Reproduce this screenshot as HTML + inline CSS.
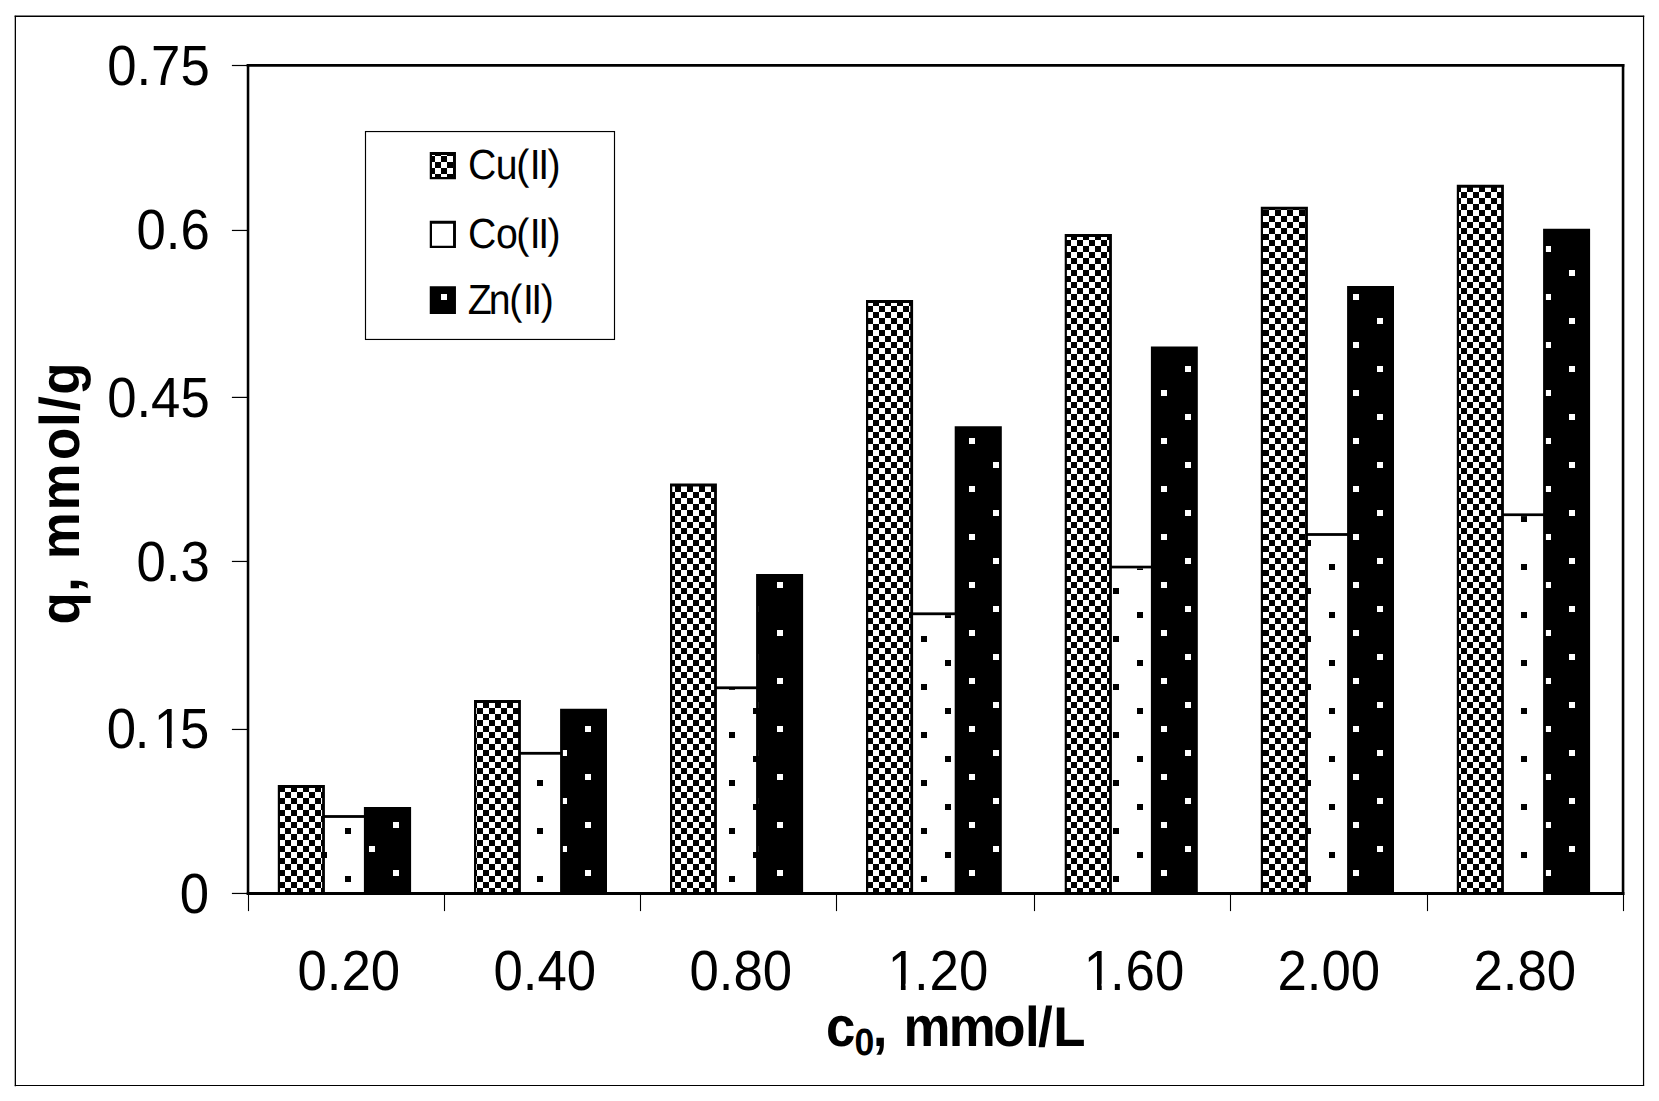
<!DOCTYPE html>
<html lang="en"><head><meta charset="utf-8"><title>Adsorption capacity chart</title>
<style>html,body{margin:0;padding:0;background:#fff}body{width:1659px;height:1101px;overflow:hidden}svg{display:block;position:absolute;left:0;top:0}text{font-family:"Liberation Sans",sans-serif;fill:#000;text-rendering:geometricPrecision}.b{font-weight:bold}</style></head><body>
<svg width="1659" height="1101" viewBox="0 0 1659 1101" shape-rendering="auto">
<defs>
<pattern id="chk" patternUnits="userSpaceOnUse" x="3" y="0" width="12" height="12"><rect width="12" height="12" fill="#000"/><rect x="0" y="0" width="6" height="6" fill="#fff"/><rect x="6" y="6" width="6" height="6" fill="#fff"/></pattern>
<pattern id="dotk" patternUnits="userSpaceOnUse" x="0" y="0" width="48" height="48"><rect width="48" height="48" fill="#fff"/><rect x="9" y="12" width="6" height="6" fill="#000"/><rect x="33" y="36" width="6" height="6" fill="#000"/></pattern>
<pattern id="dotw" patternUnits="userSpaceOnUse" x="0" y="0" width="48" height="48"><rect width="48" height="48" fill="#000"/><rect x="9" y="6" width="6" height="6" fill="#fff"/><rect x="33" y="30" width="6" height="6" fill="#fff"/></pattern>
</defs>
<rect width="1659" height="1101" fill="#fff"/>
<g stroke="#000" stroke-linecap="square" fill="none">
<line x1="15.35" y1="16.3" x2="15.35" y2="1085.5" stroke-width="1.3"/>
<line x1="15.35" y1="16.3" x2="1643.55" y2="16.3" stroke-width="1.4"/>
<line x1="1643.55" y1="16.3" x2="1643.55" y2="1085.5" stroke-width="1.2"/>
<line x1="15.35" y1="1085.55" x2="1643.55" y2="1085.55" stroke-width="1.1"/>
</g>
<g>
<rect x="323.9" y="817.9" width="41.0" height="75.6" fill="url(#dotk)"/>
<rect x="323.9" y="815.1" width="41.0" height="2.8" fill="#000"/>
<rect x="519.9" y="754.7" width="41.2" height="138.8" fill="url(#dotk)"/>
<rect x="519.9" y="751.9" width="41.2" height="2.8" fill="#000"/>
<rect x="715.9" y="689.2" width="41.2" height="204.3" fill="url(#dotk)"/>
<rect x="715.9" y="686.4" width="41.2" height="2.8" fill="#000"/>
<rect x="912.1" y="615.2" width="43.6" height="278.3" fill="url(#dotk)"/>
<rect x="912.1" y="612.4" width="43.6" height="2.8" fill="#000"/>
<rect x="1110.9" y="568.4" width="41.0" height="325.1" fill="url(#dotk)"/>
<rect x="1110.9" y="565.7" width="41.0" height="2.7" fill="#000"/>
<rect x="1306.9" y="535.9" width="41.2" height="357.6" fill="url(#dotk)"/>
<rect x="1306.9" y="533.1" width="41.2" height="2.8" fill="#000"/>
<rect x="1502.9" y="516.1" width="41.2" height="377.4" fill="url(#dotk)"/>
<rect x="1502.9" y="513.4" width="41.2" height="2.7" fill="#000"/>
</g>
<rect x="278.80" y="786.00" width="45.10" height="107.50" fill="url(#chk)"/>
<path fill="#000" d="M277.80 893.50V785.00H324.90V893.50H322.10V788.00H280.00V893.50Z"/>
<rect x="364.90" y="808.00" width="45.20" height="85.50" fill="url(#dotw)"/>
<path fill="#000" d="M363.90 893.50V807.00H411.10V893.50H408.40V810.00H366.70V893.50Z"/>
<rect x="475.00" y="701.00" width="44.90" height="192.50" fill="url(#chk)"/>
<path fill="#000" d="M474.00 893.50V700.00H520.90V893.50H518.10V703.00H476.20V893.50Z"/>
<rect x="561.10" y="709.80" width="44.90" height="183.70" fill="url(#dotw)"/>
<path fill="#000" d="M560.10 893.50V708.80H607.00V893.50H604.30V711.80H562.90V893.50Z"/>
<rect x="671.00" y="484.50" width="44.90" height="409.00" fill="url(#chk)"/>
<path fill="#000" d="M670.00 893.50V483.50H716.90V893.50H714.10V486.50H672.20V893.50Z"/>
<rect x="757.10" y="575.00" width="45.00" height="318.50" fill="url(#dotw)"/>
<path fill="#000" d="M756.10 893.50V574.00H803.10V893.50H800.40V577.00H758.90V893.50Z"/>
<rect x="867.00" y="301.00" width="45.10" height="592.50" fill="url(#chk)"/>
<path fill="#000" d="M866.00 893.50V300.00H913.10V893.50H910.30V303.00H868.20V893.50Z"/>
<rect x="955.70" y="427.20" width="45.10" height="466.30" fill="url(#dotw)"/>
<path fill="#000" d="M954.70 893.50V426.20H1001.80V893.50H999.10V429.20H957.50V893.50Z"/>
<rect x="1065.70" y="235.00" width="45.20" height="658.50" fill="url(#chk)"/>
<path fill="#000" d="M1064.70 893.50V234.00H1111.90V893.50H1109.10V237.00H1066.90V893.50Z"/>
<rect x="1151.90" y="347.50" width="44.90" height="546.00" fill="url(#dotw)"/>
<path fill="#000" d="M1150.90 893.50V346.50H1197.80V893.50H1195.10V349.50H1153.70V893.50Z"/>
<rect x="1261.80" y="207.80" width="45.10" height="685.70" fill="url(#chk)"/>
<path fill="#000" d="M1260.80 893.50V206.80H1307.90V893.50H1305.10V209.80H1263.00V893.50Z"/>
<rect x="1348.10" y="287.10" width="44.90" height="606.40" fill="url(#dotw)"/>
<path fill="#000" d="M1347.10 893.50V286.10H1394.00V893.50H1391.30V289.10H1349.90V893.50Z"/>
<rect x="1457.80" y="185.80" width="45.10" height="707.70" fill="url(#chk)"/>
<path fill="#000" d="M1456.80 893.50V184.80H1503.90V893.50H1501.10V187.80H1459.00V893.50Z"/>
<rect x="1544.10" y="229.70" width="45.00" height="663.80" fill="url(#dotw)"/>
<path fill="#000" d="M1543.10 893.50V228.70H1590.10V893.50H1587.40V231.70H1545.90V893.50Z"/>
<g stroke="#000" stroke-linecap="butt" fill="none">
<line x1="248.03" y1="64.1" x2="248.03" y2="895" stroke-width="2.55"/>
<line x1="1623.05" y1="64.1" x2="1623.05" y2="895" stroke-width="2.6"/>
<line x1="246.75" y1="65.45" x2="1624.35" y2="65.45" stroke-width="2.7"/>
<line x1="246.75" y1="893.5" x2="1624.35" y2="893.5" stroke-width="3"/>
</g>
<line x1="231.9" y1="65.50" x2="247.5" y2="65.50" stroke="#000" stroke-width="1.2"/>
<line x1="231.9" y1="230.45" x2="247.5" y2="230.45" stroke="#000" stroke-width="1.2"/>
<line x1="231.9" y1="397.40" x2="247.5" y2="397.40" stroke="#000" stroke-width="1.2"/>
<line x1="231.9" y1="561.45" x2="247.5" y2="561.45" stroke="#000" stroke-width="1.2"/>
<line x1="231.9" y1="729.45" x2="247.5" y2="729.45" stroke="#000" stroke-width="1.2"/>
<line x1="231.9" y1="893.45" x2="247.5" y2="893.45" stroke="#000" stroke-width="1.2"/>
<line x1="248.5" y1="894" x2="248.5" y2="911.1" stroke="#000" stroke-width="1.1"/>
<line x1="444.5" y1="894" x2="444.5" y2="911.1" stroke="#000" stroke-width="1.1"/>
<line x1="640.5" y1="894" x2="640.5" y2="911.1" stroke="#000" stroke-width="1.1"/>
<line x1="836.5" y1="894" x2="836.5" y2="911.1" stroke="#000" stroke-width="1.1"/>
<line x1="1034.5" y1="894" x2="1034.5" y2="911.1" stroke="#000" stroke-width="1.1"/>
<line x1="1230.5" y1="894" x2="1230.5" y2="911.1" stroke="#000" stroke-width="1.1"/>
<line x1="1427.5" y1="894" x2="1427.5" y2="911.1" stroke="#000" stroke-width="1.1"/>
<line x1="1623.5" y1="894" x2="1623.5" y2="911.1" stroke="#000" stroke-width="1.1"/>
<text transform="translate(209.80 84.90) scale(0.9320 1)" font-size="56.60" text-anchor="end">0.75</text>
<text transform="translate(209.80 248.90) scale(0.9320 1)" font-size="56.60" text-anchor="end">0.6</text>
<text transform="translate(209.80 417.10) scale(0.9320 1)" font-size="56.60" text-anchor="end">0.45</text>
<text transform="translate(209.80 580.90) scale(0.9320 1)" font-size="56.60" text-anchor="end">0.3</text>
<clipPath id="k1"><path clip-rule="evenodd" d="M104.63 -60.00 H253.17 V20.00 H104.63 Z M167.68 -6.36 H179.15 V6.00 H167.68 Z M184.15 -6.36 H194.21 V6.00 H184.15 Z"/></clipPath>
<text transform="translate(0 747.90) scale(0.9320 1)" font-size="56.60" x="114.63 144.66 164.92 193.17" clip-path="url(#k1)">0.15</text>
<text transform="translate(209.20 912.70) scale(0.9320 1)" font-size="56.60" text-anchor="end">0</text>
<text transform="translate(400.10 990.10) scale(0.9320 1)" font-size="56.60" text-anchor="end">0.20</text>
<text transform="translate(596.10 990.10) scale(0.9320 1)" font-size="56.60" text-anchor="end">0.40</text>
<text transform="translate(792.10 990.10) scale(0.9320 1)" font-size="56.60" text-anchor="end">0.80</text>
<clipPath id="k2"><path clip-rule="evenodd" d="M942.42 -60.00 H1088.87 V20.00 H942.42 Z M955.19 -6.36 H966.66 V6.00 H955.19 Z M971.66 -6.36 H981.72 V6.00 H971.66 Z"/></clipPath>
<text transform="translate(0 990.10) scale(0.9320 1)" font-size="56.60" x="952.42 980.76 997.19 1028.87" clip-path="url(#k2)">1.20</text>
<clipPath id="k3"><path clip-rule="evenodd" d="M1152.85 -60.00 H1299.33 V20.00 H1152.85 Z M1165.62 -6.36 H1177.09 V6.00 H1165.62 Z M1182.09 -6.36 H1192.15 V6.00 H1182.09 Z"/></clipPath>
<text transform="translate(0 990.10) scale(0.9320 1)" font-size="56.60" x="1162.85 1190.90 1207.67 1239.33" clip-path="url(#k3)">1.60</text>
<text transform="translate(1380.10 990.10) scale(0.9320 1)" font-size="56.60" text-anchor="end">2.00</text>
<text transform="translate(1576.10 990.10) scale(0.9320 1)" font-size="56.60" text-anchor="end">2.80</text>
<text class="b" transform="translate(0 1046.40) scale(0.9430 1)" font-size="56.00" x="875.86 906.19 925.49 943.80 958.05 1006.07 1053.20 1087.05 1100.76 1116.93">c<tspan font-size="37.80" dy="9.00">0</tspan><tspan dy="-9.00">, mmol/L</tspan></text>
<text class="b" transform="translate(79.00 0) rotate(-90) scale(0.9430 1)" font-size="56.00" x="-662.14 -627.80 -604.45 -593.14 -541.34 -487.78 -452.77 -435.85 -418.50">q, mmol/g</text>
<rect x="365.5" y="131.55" width="249" height="207.9" fill="#fff" stroke="#000" stroke-width="1.15"/>
<rect x="430.75" y="153.00" width="24.20" height="25.20" fill="url(#chk)"/>
<path fill="#000" fill-rule="evenodd" d="M429.75 152.00H455.95V179.20H429.75ZM432.00 155.00H453.05V177.00H432.00Z"/>
<rect x="430.75" y="221.80" width="24.20" height="25.10" fill="url(#dotk)"/>
<path fill="#000" fill-rule="evenodd" d="M429.75 220.80H455.95V247.90H429.75ZM432.00 223.80H453.05V245.70H432.00Z"/>
<rect x="430.75" y="287.20" width="24.20" height="25.70" fill="url(#dotw)"/>
<path fill="#000" fill-rule="evenodd" d="M429.75 286.20H455.95V313.90H429.75ZM432.00 289.20H453.05V311.70H432.00Z"/>
<text transform="translate(0 179.00) scale(0.9300 1)" font-size="42.20" x="503.10 533.00 555.12 569.73 578.71 588.78">Cu(II)</text>
<text transform="translate(0 248.00) scale(0.9300 1)" font-size="42.20" x="503.10 533.27 555.12 569.73 578.71 588.78">Co(II)</text>
<text transform="translate(0 314.00) scale(0.9300 1)" font-size="42.20" x="503.01 525.65 547.49 562.36 571.13 581.42">Zn(II)</text>
</svg></body></html>
